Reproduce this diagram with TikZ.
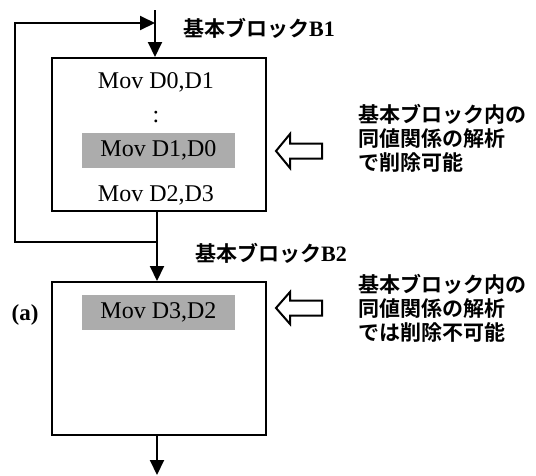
\documentclass[tikz,border=0pt]{standalone}
\usepackage{fontspec}
\setmainfont{Liberation Serif}
\newfontfamily\cjk{Noto Sans CJK JP}[BoldFont={Noto Sans CJK JP Bold}]
\usetikzlibrary{arrows.meta}
\begin{document}
\begin{tikzpicture}[x=1pt,y=-1pt,
  line/.style={line width=2pt},
  arr/.style={line width=2pt,-{Triangle[length=15pt,width=14pt]}},
  block/.style={draw,line width=2pt,minimum width=214pt,minimum height=153pt,inner sep=0pt},
  hl/.style={fill=gray!65,minimum width=153pt,minimum height=35pt,inner sep=0pt,font=\fontsize{24}{24}\selectfont},
  code/.style={font=\fontsize{24}{24}\selectfont,inner sep=0pt},
  lab/.style={font=\cjk\bfseries\fontsize{21}{21}\selectfont,inner sep=0pt,anchor=west},
  note/.style={font=\cjk\bfseries\fontsize{21}{24}\selectfont,align=left,inner sep=0pt,anchor=west},
  hollow/.style={draw,line width=2pt,fill=white,line join=miter}
]
\useasboundingbox (0,0) rectangle (536,475);
% blocks
\node[block] (B1) at (159,134.5) {};
\node[block] (B2) at (159,358.5) {};
\node[code] (c1) at (156,82) {Mov D0,D1};
\node[code] (dots) at (156,117) {:};
\node[hl] (g1) at (158.5,150.5) {Mov D1,D0};
\node[code] (c3) at (156,195) {Mov D2,D3};
\node[hl] (g2) at (158.5,312) {Mov D3,D2};
% labels
\node[lab] (L1) at (183,28) {基本ブロック{\rmfamily\bfseries\fontsize{22}{22}\selectfont B1}};
\node[lab] (L2) at (195,253) {基本ブロック{\rmfamily\bfseries\fontsize{22}{22}\selectfont B2}};
\node[note] (N1) at (358,138) {基本ブロック内の\\同値関係の解析\\で削除可能};
\node[note] (N2) at (358,308) {基本ブロック内の\\同値関係の解析\\では削除不可能};
\node[font=\bfseries\fontsize{23}{23}\selectfont,inner sep=0pt] (a) at (25,315) {(a)};
% connectors
\coordinate (top) at (155,10);
\coordinate (j1) at (155,23);
\coordinate (lp) at (157,242);
\coordinate (lpL) at (15,242);
\coordinate (lpT) at (15,23);
\coordinate (end) at (157,475);
\draw[arr] (top) -- (top |- B1.north);
\draw[arr] (lp) -- (lpL) -- (lpT) -- (j1);
\draw[arr] (B1.south -| lp) -- (B2.north -| lp);
\draw[arr] (B2.south -| end) -- (end);
% hollow arrows
\coordinate (h1) at (276,151);
\coordinate (h2) at (276,308);
\draw[hollow] (h1) -- ++(14,-17) -- ++(0,9.5) -- ++(32,0) -- ++(0,15) -- ++(-32,0) -- ++(0,9.5) -- cycle;
\draw[hollow] (h2) -- ++(14,-16) -- ++(0,8.5) -- ++(32,0) -- ++(0,15) -- ++(-32,0) -- ++(0,8.5) -- cycle;
\end{tikzpicture}
\end{document}
